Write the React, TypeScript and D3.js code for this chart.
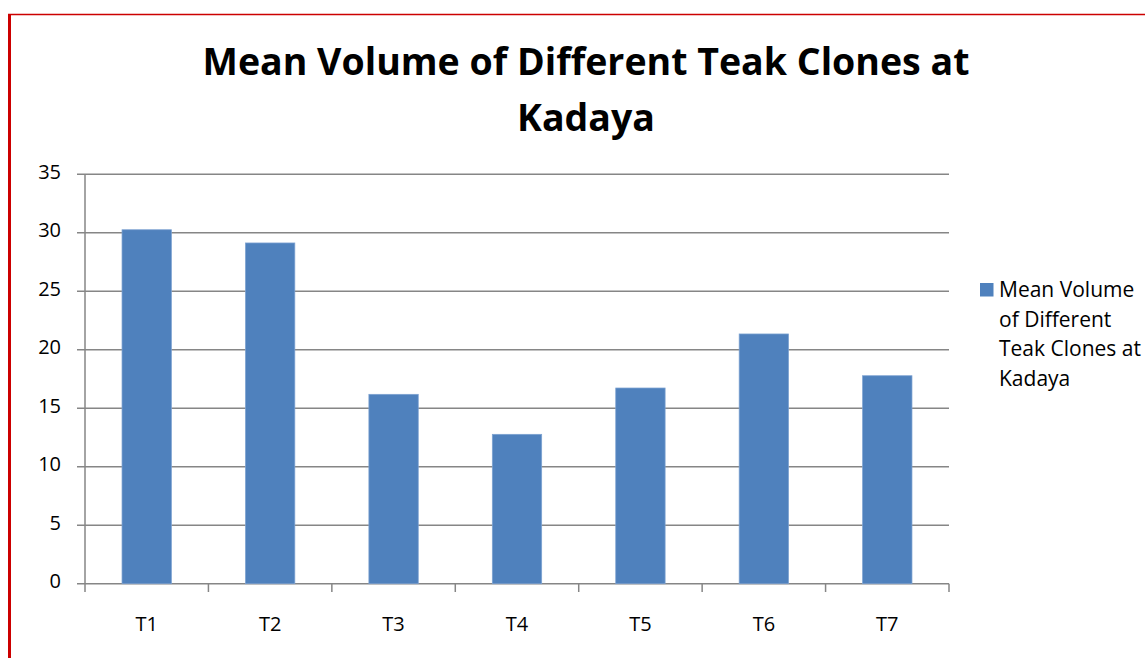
import React from "react";
import * as d3 from "d3";

const categories = ["T1", "T2", "T3", "T4", "T5", "T6", "T7"];
const values = [30.26, 29.13, 16.19, 12.77, 16.73, 21.35, 17.78];
const yTicks = [0, 5, 10, 15, 20, 25, 30, 35];
const titleLines = ["Mean Volume of Different Teak Clones at", "Kadaya"];
const legendLines = ["Mean Volume", "of Different", "Teak Clones at", "Kadaya"];

const W = 1145;
const H = 658;
const plot = { left: 85, right: 949, top: 174.3, bottom: 583.7 };
const FONT = "'Open Sans', 'Noto Sans', sans-serif";

export default function App() {
  const x = d3
    .scaleBand<string>()
    .domain(categories)
    .range([plot.left, plot.right])
    .paddingInner(0.6)
    .paddingOuter(0.3);
  const band = d3.scaleBand<string>().domain(categories).range([plot.left, plot.right]);
  const y = d3.scaleLinear().domain([0, 35]).range([plot.bottom, plot.top]);

  const boundaries = [...categories.map((c) => band(c) as number), plot.right];

  return (
    <svg
      width={W}
      height={H}
      style={{ position: "absolute", left: 0, top: 0, background: "#fff" }}
      fontFamily={FONT}
    >
      <rect x={0} y={0} width={W} height={H} fill="#fff" />
      {/* red border */}
      <line x1={8} x2={W} y1={14.5} y2={14.5} stroke="#CC0000" strokeWidth={1.5} />
      <line x1={9.5} x2={9.5} y1={14} y2={H} stroke="#CC0000" strokeWidth={3} />

      {/* title */}
      {titleLines.map((t, i) => (
        <text
          key={i}
          x={586}
          y={75 + i * 56}
          textAnchor="middle"
          fontSize={37.5}
          fontWeight="bold"
          fill="#000"
        >
          {t}
        </text>
      ))}

      {/* gridlines */}
      {yTicks.map((t) => (
        <g key={t}>
          <line
            x1={77}
            x2={plot.right}
            y1={y(t)}
            y2={y(t)}
            stroke="#868686"
            strokeWidth={1.5}
          />
          <text
            x={61}
            y={y(t) - 2.5}
            dy="0.36em"
            textAnchor="end"
            fontSize={20}
            fill="#000"
          >
            {t}
          </text>
        </g>
      ))}

      {/* y axis */}
      <line x1={plot.left} x2={plot.left} y1={plot.top} y2={plot.bottom} stroke="#868686" strokeWidth={1.5} />

      {/* x ticks */}
      {boundaries.map((b, i) => (
        <line key={i} x1={b} x2={b} y1={plot.bottom} y2={592} stroke="#868686" strokeWidth={1.5} />
      ))}

      {/* bars */}
      {categories.map((c, i) => (
        <rect
          key={c}
          x={x(c)}
          y={y(values[i])}
          width={x.bandwidth()}
          height={plot.bottom - y(values[i])}
          fill="#4F81BD"
          stroke="#7DA2D1"
          strokeWidth={0.75}
        />
      ))}

      {/* x labels */}
      {categories.map((c) => (
        <text
          key={c}
          x={(band(c) as number) + band.bandwidth() / 2}
          y={631}
          textAnchor="middle"
          fontSize={20}
          fill="#000"
        >
          {c}
        </text>
      ))}

      {/* legend */}
      <rect x={980} y={283} width={13.5} height={13.5} fill="#4F81BD" />
      {legendLines.map((t, i) => (
        <text key={i} x={999} y={296.7 + i * 29.8} fontSize={21} fill="#000">
          {t}
        </text>
      ))}
    </svg>
  );
}
